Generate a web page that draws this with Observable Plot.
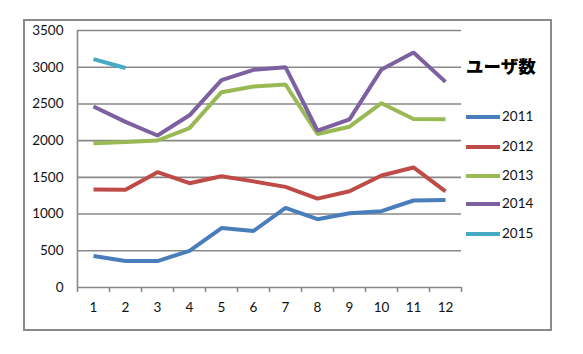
<!DOCTYPE html>
<html><head><meta charset="utf-8">
<script src="https://cdn.jsdelivr.net/npm/d3@7"></script>
<script src="https://cdn.jsdelivr.net/npm/@observablehq/plot@0.6"></script>
<style>
html,body{margin:0;padding:0;background:#fff;}
#wrap{position:relative;width:583px;height:354px;font-family:Lato,"Noto Sans",sans-serif;}
#box{position:absolute;left:23px;top:19px;width:525px;height:308px;border:2px solid #8a8a8a;}
#chart{position:absolute;left:0;top:0;}
#ltitle{position:absolute;left:466px;top:53px;font-family:"Noto Sans CJK JP",sans-serif;font-weight:900;font-size:17.5px;white-space:nowrap;color:#000;}
.li{position:absolute;left:466px;font-size:13.5px;color:#111;white-space:nowrap;height:16px;line-height:16px;}
.li span.sw{display:inline-block;width:34px;height:4px;vertical-align:middle;margin-right:2px;position:relative;top:-1px;}
</style></head>
<body><div id="wrap"><div id="box"></div><div id="chart"></div><div id="ltitle"></div><div id="legendItems"></div></div>
<script>
const months = [1,2,3,4,5,6,7,8,9,10,11,12];
const years = ["2011","2012","2013","2014","2015"];
const colors = ["#4A7EBB","#BE4B48","#98B954","#7D60A0","#46AAC5"];
const v2011 = [430,360,360,500,810,770,1085,930,1010,1040,1185,1190];
const v2012 = [1335,1330,1570,1420,1516,1445,1370,1210,1310,1525,1635,1310];
const v2013 = [1965,1980,2002,2170,2660,2737,2765,2090,2190,2510,2295,2290];
const v2014 = [2465,2255,2070,2345,2825,2965,3000,2135,2290,2970,3200,2800];
const v2015 = [3110,2990];
const yTicks = [0,500,1000,1500,2000,2500,3000,3500];
const legendTitle = "ユーザ数";

const series = [v2011,v2012,v2013,v2014,v2015];
const data = [];
series.forEach((vals,i)=>vals.forEach((v,j)=>data.push({year:years[i],month:months[j],value:v})));
const bounds = months.map(m=>m-0.5).concat([months[months.length-1]+0.5]);

const grid = "#888";
const chart = Plot.plot({
  width:583, height:354,
  marginLeft:77, marginRight:122, marginTop:30, marginBottom:67,
  style:{fontFamily:"Lato, 'Noto Sans', sans-serif", fontSize:"13.5px", color:"#111", background:"transparent"},
  x:{type:"linear", domain:[bounds[0], bounds[bounds.length-1]]},
  y:{domain:[0,3500]},
  color:{domain:years, range:colors},
  marks:[
    Plot.gridY(yTicks,{stroke:grid, strokeOpacity:1, strokeWidth:1.6}),
    Plot.ruleX([bounds[0]],{stroke:grid, strokeWidth:1.6}),
    Plot.axisX({ticks:bounds, tickFormat:()=>"", tickSize:5, stroke:grid, strokeWidth:1.6, label:null}),
    Plot.axisX({ticks:months, tickSize:0, tickPadding:15, tickFormat:d=>String(d), label:null, fill:"#111"}),
    Plot.axisY({ticks:yTicks, tickSize:0, tickPadding:14, tickFormat:d=>String(d), label:null, fill:"#111"}),
    Plot.line(data,{x:"month", y:"value", stroke:"year", z:"year", strokeWidth:4, strokeLinecap:"butt", strokeLinejoin:"miter"})
  ]
});
document.getElementById("chart").appendChild(chart);
document.getElementById("ltitle").textContent = legendTitle;
const li = document.getElementById("legendItems");
const tops = [108,138,167,195,225];
years.forEach((y,i)=>{
  const d = document.createElement("div");
  d.className="li"; d.style.top = tops[i]+"px";
  d.innerHTML = `<span class="sw" style="background:${colors[i]}"></span>${y}`;
  li.appendChild(d);
});
</script></body></html>
